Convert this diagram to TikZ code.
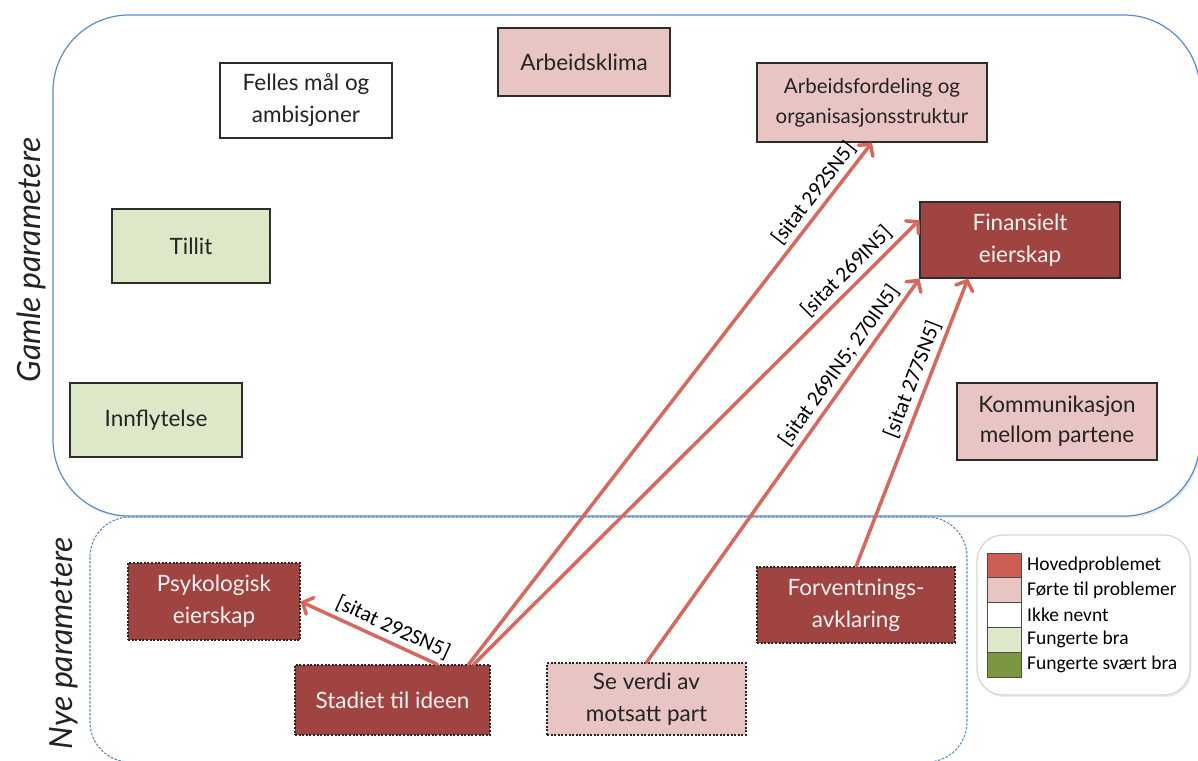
\documentclass[tikz,border=0pt]{standalone}
\usepackage{fontspec}
\setmainfont{Lato}
\newfontfamily\calfont{Carlito}
\usetikzlibrary{arrows.meta,shadows}
\definecolor{darkfill}{RGB}{160,68,66}
\definecolor{pinkfill}{RGB}{232,196,194}
\definecolor{greenfill}{RGB}{221,232,200}
\definecolor{boxline}{RGB}{45,45,45}
\definecolor{textdark}{RGB}{35,35,35}
\definecolor{arrowred}{RGB}{214,104,94}
\definecolor{frameblue}{RGB}{90,140,200}
\definecolor{legred}{RGB}{205,94,84}
\definecolor{leggreen}{RGB}{122,150,62}
\definecolor{legline}{RGB}{215,215,215}
\tikzset{
  box/.style={draw=boxline, line width=1.1pt, align=center, inner sep=2pt,
    font=\fontsize{22.5}{32}\selectfont, text=textdark},
  whitebox/.style={box, fill=white},
  pinkbox/.style={box, fill=pinkfill},
  greenbox/.style={box, fill=greenfill},
  darkbox/.style={box, fill=darkfill, text=white!93!darkfill},
  newbox/.style={dash pattern=on 2pt off 1.6pt, draw=black!85},
  arr/.style={draw=arrowred, line width=3.5pt, line cap=round,
    -{Straight Barb[length=8pt,width=18pt,line cap=round]}},
  lab/.style={font=\calfont\fontsize{21.5}{23}\selectfont, sloped, above, inner sep=4pt, text=black},
  sidelab/.style={rotate=90, font=\itshape\fontsize{32}{34}\selectfont, text=textdark},
  swatch/.style={draw=black!70, line width=0.8pt, minimum width=34pt, minimum height=24.8pt, inner sep=0pt},
  legtext/.style={anchor=west, font=\calfont\fontsize{19.5}{21}\selectfont, text=black, inner sep=0pt}
}
\begin{document}
\begin{tikzpicture}[x=1pt,y=-1pt]
\useasboundingbox (0,0) rectangle (1198,760);
% frames
\draw[frameblue, line width=1.2pt, rounded corners=76pt, fill=white,
  drop shadow={opacity=0.18, shadow xshift=1.5pt, shadow yshift=-2pt}] (53,15) rectangle (1200,516);
\draw[frameblue, line width=1.1pt, dash pattern=on 2.5pt off 1.5pt, rounded corners=40pt] (90,517) rectangle (967,762);
\node[sidelab] (gamle) at (31,260) {Gamle parametere};
\node[sidelab] (nye) at (64,643) {Nye parametere};
% old parameters
\node[pinkbox, minimum width=172pt, minimum height=68pt] (arb) at (584,62) {Arbeidsklima};
\node[whitebox, minimum width=172pt, minimum height=75pt] (felles) at (306,100.5) {Felles mål og\\ambisjoner};
\node[pinkbox, minimum width=230pt, minimum height=79pt, font=\fontsize{20.5}{30}\selectfont] (arbfo) at (872,102.5) {Arbeidsfordeling og\\organisasjonsstruktur};
\node[greenbox, minimum width=158pt, minimum height=74pt] (tillit) at (191,246) {Tillit};
\node[darkbox, minimum width=200pt, minimum height=76pt] (fin) at (1020,240) {Finansielt\\eierskap};
\node[greenbox, minimum width=172pt, minimum height=74pt] (innfl) at (156,420) {Innflytelse};
\node[pinkbox, minimum width=200pt, minimum height=77pt, font=\fontsize{22.5}{30}\selectfont] (komm) at (1057,421.5) {Kommunikasjon\\mellom partene};
% new parameters
\node[darkbox, newbox, minimum width=172pt, minimum height=77pt] (psyk) at (214,601.5) {Psykologisk\\eierskap};
\node[darkbox, newbox, minimum width=195pt, minimum height=70pt] (stad) at (392.5,700) {Stadiet til ideen};
\node[pinkbox, newbox, minimum width=199pt, minimum height=72pt] (se) at (646.5,699) {Se verdi av\\motsatt part};
\node[darkbox, newbox, minimum width=198pt, minimum height=76pt] (forv) at (856,605) {Forventnings-\\avklaring};
% arrows
\draw[arr] ([xshift=-22pt]stad.north east) -- node[lab, pos=0.885] (l1) {[sitat 292SN5]} (arbfo.south);
\draw[arr] ([xshift=-17pt]stad.north east) -- node[lab, pos=0.86] (l2) {[sitat 269IN5]} ([yshift=20pt]fin.west);
\draw[arr] (se.north) -- node[lab, pos=0.75] (l3) {[sitat 269IN5; 270IN5]} (fin.south west);
\draw[arr] (forv.north) -- node[lab, pos=0.63] (l4) {[sitat 277SN5]} ([xshift=-52pt]fin.south);
\draw[arr] ([xshift=-53pt]stad.north east) -- node[lab, pos=0.37] (l5) {[sitat 292SN5]} (psyk.east);
% legend
\draw[legline, line width=1.3pt, rounded corners=26pt, fill=white,
  drop shadow={opacity=0.15, shadow xshift=1.5pt, shadow yshift=-2pt}] (977,535) rectangle (1190,695);
\node[swatch, fill=legred] (s1) at (1004,565.4) {};
\node[swatch, fill=pinkfill] (s2) at (1004,590.2) {};
\node[swatch, fill=white] (s3) at (1004,615) {};
\node[swatch, fill=greenfill] (s4) at (1004,639.8) {};
\node[swatch, fill=leggreen] (s5) at (1004,664.6) {};
\node[legtext] (t1) at (1027,565.4) {Hovedproblemet};
\node[legtext] (t2) at (1027,590.2) {Førte til problemer};
\node[legtext] (t3) at (1027,615) {Ikke nevnt};
\node[legtext] (t4) at (1027,639.8) {Fungerte bra};
\node[legtext] (t5) at (1027,664.6) {Fungerte svært bra};
\end{tikzpicture}
\end{document}
